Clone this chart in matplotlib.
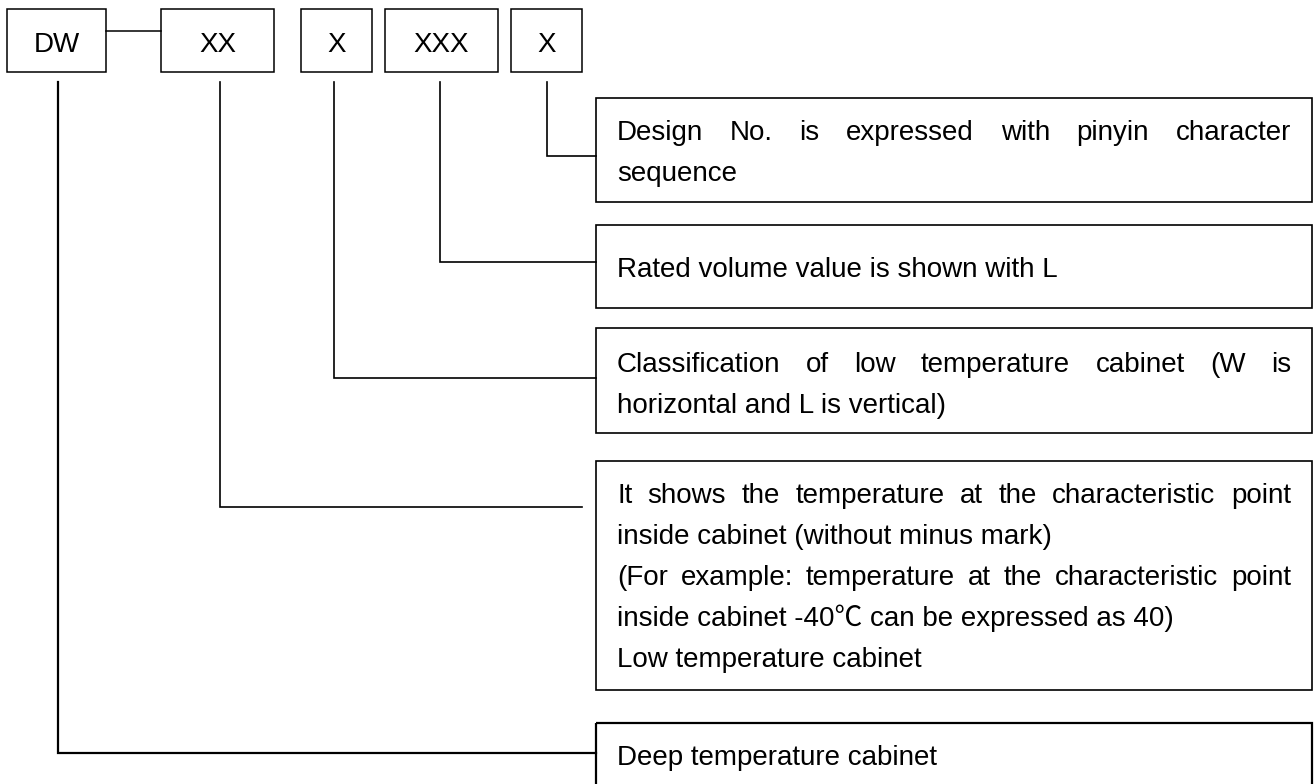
import matplotlib.pyplot as plt
from matplotlib.patches import Rectangle

# model code parts (top row) and their meanings (right column)
codes = ["DW", "XX", "X", "XXX", "X"]

descriptions = [
    ["Design No. is expressed with pinyin character", "sequence"],
    ["Rated volume value is shown with L"],
    ["Classification of low temperature cabinet (W is", "horizontal and L is vertical)"],
    [
        "It shows the temperature at the characteristic point",
        "inside cabinet (without minus mark)",
        "(For example: temperature at the characteristic point",
        "inside cabinet -40\u2103 can be expressed as 40)",
        "Low temperature cabinet",
    ],
    ["Deep temperature cabinet"],
]
# which lines are stretched to the full box width
justified = [
    [True, False],
    [False],
    [True, False],
    [True, False, True, False, False],
    [False],
]

# --- layout (pixels, y downwards) ---
W, H = 1314, 784
FONT = ["Liberation Sans", "Noto Sans CJK SC", "DejaVu Sans"]
FS = 20

code_left = [7, 161, 301, 385, 511]
code_right = [106, 274, 372, 498, 582]
code_top, code_bottom = 9, 72
code_stem = [58, 220, 334, 440, 547]  # x of the vertical leader under each code
stem_top = 82

box_left, box_right = 596, 1312
box_top = [98, 225, 328, 461, 723]
box_bottom = [202, 308, 433, 690, 800]
first_baseline = [140, 277, 372, 503, 765]
line_step = 41
text_left, text_right = 617, 1291

# leader k goes from code (5 - 1 - k) to description box k
leader_y = [156, 262, 378, 507, 753]
leader_end = [596, 596, 596, 582, 596]

fig = plt.figure(figsize=(W / 100, H / 100), dpi=100)
ax = fig.add_axes([0, 0, 1, 1])
ax.set_xlim(0, W)
ax.set_ylim(H, 0)
ax.axis("off")

# top row of code boxes
for i, code in enumerate(codes):
    ax.add_patch(Rectangle((code_left[i], code_top), code_right[i] - code_left[i],
                           code_bottom - code_top, fill=False, lw=1.1, ec="black"))
    ax.text((code_left[i] + code_right[i]) / 2, 52, code, fontsize=FS, family=FONT,
            ha="center", va="baseline")

# DW - XX joint
ax.plot([code_right[0], code_left[1]], [31, 31], color="black", lw=1.1)

# leaders
for k in range(len(descriptions)):
    ci = len(codes) - 1 - k
    x = code_stem[ci]
    lw = 1.6 if ci == 0 else 1.2
    ax.plot([x, x, leader_end[k]], [stem_top, leader_y[k], leader_y[k]],
            color="black", lw=lw, solid_joinstyle="miter")

renderer = fig.canvas.get_renderer()

# description boxes
for k, lines in enumerate(descriptions):
    lw = 1.6 if k == len(descriptions) - 1 else 1.2
    ax.add_patch(Rectangle((box_left, box_top[k]), box_right - box_left,
                           box_bottom[k] - box_top[k], fill=False, lw=lw, ec="black"))
    for j, line in enumerate(lines):
        y = first_baseline[k] + j * line_step
        if not justified[k][j]:
            ax.text(text_left, y, line, fontsize=FS, family=FONT, va="baseline")
            continue
        words = line.split(" ")
        items = [ax.text(0, y, w, fontsize=FS, family=FONT, va="baseline") for w in words]
        widths = [t.get_window_extent(renderer).width for t in items]
        gap = (text_right - text_left - sum(widths)) / (len(words) - 1)
        x = text_left
        for t, w in zip(items, widths):
            t.set_x(x)
            x += w + gap

fig.savefig("out.png", dpi=100, facecolor="white")
